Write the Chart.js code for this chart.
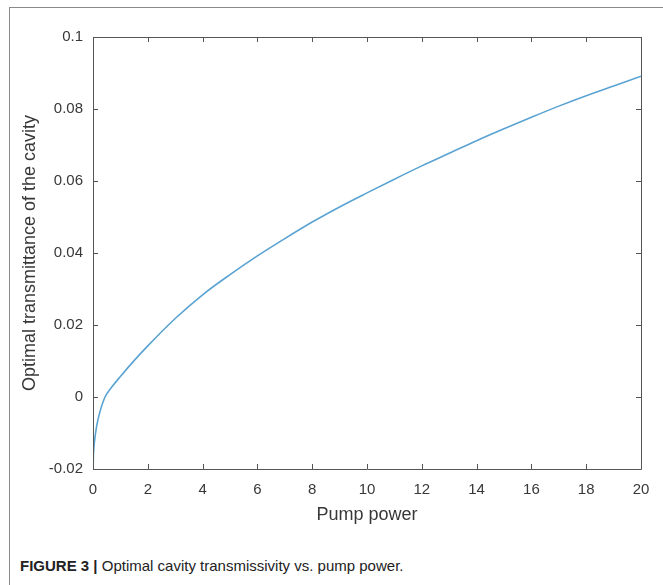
<!DOCTYPE html>
<html>
<head>
<meta charset="utf-8">
<script src="https://cdn.jsdelivr.net/npm/chart.js@4/dist/chart.umd.min.js"></script>
<style>
  html, body { margin: 0; padding: 0; background: #fff; }
  body { width: 663px; height: 585px; position: relative; overflow: hidden; }
  #frame { position: absolute; left: 9px; top: 7px; width: 700px; height: 600px;
           border-left: 1px solid #8a8a8a; border-top: 1px solid #8a8a8a; }
  #wrap { position: absolute; left: 0; top: 0; width: 663px; height: 540px; }
  #caption { position: absolute; left: 20px; top: 557px; font-family: "Liberation Sans", Arial, sans-serif;
             font-size: 15px; color: #222; white-space: nowrap; }
  #caption b { font-weight: bold; }
</style>
</head>
<body>
<div id="frame"></div>
<div id="wrap"><canvas id="c" width="663" height="540"></canvas></div>
<div id="caption"><b>FIGURE 3 |</b> Optimal cavity transmissivity vs. pump power.</div>
<script>
const pumpPower = [0, 0.02, 0.06, 0.135, 0.25, 0.44, 0.7, 1, 1.5, 2, 3, 4, 5, 6, 7, 8, 9, 10, 11, 12, 13, 14, 15, 16, 17, 18, 19, 20];
const transmittance = [-0.02, -0.0155, -0.012, -0.008, -0.0042, 0, 0.0029, 0.0057, 0.0101, 0.0142, 0.0218, 0.0284, 0.0340, 0.0392, 0.0440, 0.0486, 0.0528, 0.0567, 0.0605, 0.0642, 0.0677, 0.0712, 0.0745, 0.0777, 0.0808, 0.0837, 0.0864, 0.0891];
const xTicks = [0, 2, 4, 6, 8, 10, 12, 14, 16, 18, 20];
const yTicks = [-0.02, 0, 0.02, 0.04, 0.06, 0.08, 0.1];
const yTickLabels = ["-0.02", "0", "0.02", "0.04", "0.06", "0.08", "0.1"];
const xTitle = "Pump power";
const yTitle = "Optimal transmittance of the cavity";

const points = pumpPower.map((x, i) => ({ x: x, y: transmittance[i] }));
const axisColor = "#555555";
const textColor = "#383838";
const fontFam = "'Liberation Sans', Arial, Helvetica, sans-serif";

const boxTicks = {
  id: "boxTicks",
  afterDraw(chart) {
    const ctx = chart.ctx, a = chart.chartArea;
    const xs = chart.scales.x, ys = chart.scales.y;
    const L = 5;
    ctx.save();
    ctx.strokeStyle = axisColor;
    ctx.lineWidth = 1;
    ctx.beginPath();
    ctx.rect(Math.round(a.left) + 0.5, Math.round(a.top) + 0.5, Math.round(a.right - a.left), Math.round(a.bottom - a.top));
    xTicks.forEach(v => {
      const px = Math.round(xs.getPixelForValue(v)) + 0.5;
      ctx.moveTo(px, a.bottom); ctx.lineTo(px, a.bottom - L);
      ctx.moveTo(px, a.top); ctx.lineTo(px, a.top + L);
    });
    yTicks.forEach(v => {
      const py = Math.round(ys.getPixelForValue(v)) + 0.5;
      ctx.moveTo(a.left, py); ctx.lineTo(a.left + L, py);
      ctx.moveTo(a.right, py); ctx.lineTo(a.right - L, py);
    });
    ctx.stroke();
    ctx.restore();
  }
};

new Chart(document.getElementById("c"), {
  type: "scatter",
  data: {
    datasets: [{
      data: points,
      showLine: true,
      borderColor: "#5aa3d2",
      borderWidth: 1.6,
      pointRadius: 0,
      cubicInterpolationMode: "monotone",
      fill: false
    }]
  },
  options: {
    responsive: false,
    animation: false,
    layout: { padding: { left: 12, right: 22, top: 37, bottom: 11 } },
    plugins: { legend: { display: false }, tooltip: { enabled: false } },
    scales: {
      x: {
        type: "linear", min: 0, max: 20,
        afterBuildTicks: s => { s.ticks = xTicks.map(v => ({ value: v })); },
        afterFit: s => { s.height = 60; },
        grid: { display: false, drawTicks: false },
        border: { display: false },
        ticks: { padding: 12, color: textColor, font: { family: fontFam, size: 15 }, maxRotation: 0,
                 callback: v => String(v) },
        title: { display: true, text: xTitle, color: textColor, padding: { top: 4, bottom: 3 },
                 font: { family: fontFam, size: 18 } }
      },
      y: {
        type: "linear", min: -0.02, max: 0.1,
        afterBuildTicks: s => { s.ticks = yTicks.map(v => ({ value: v })); },
        afterFit: s => { s.width = 81; },
        grid: { display: false, drawTicks: false },
        border: { display: false },
        ticks: { padding: 10, color: textColor, font: { family: fontFam, size: 15 },
                 callback: (v) => { const i = yTicks.findIndex(t => Math.abs(t - v) < 1e-9); return i >= 0 ? yTickLabels[i] : ""; } },
        title: { display: true, text: yTitle, color: textColor, padding: { top: 7, bottom: 7 },
                 font: { family: fontFam, size: 18 } }
      }
    }
  },
  plugins: [boxTicks]
});
</script>
</body>
</html>
